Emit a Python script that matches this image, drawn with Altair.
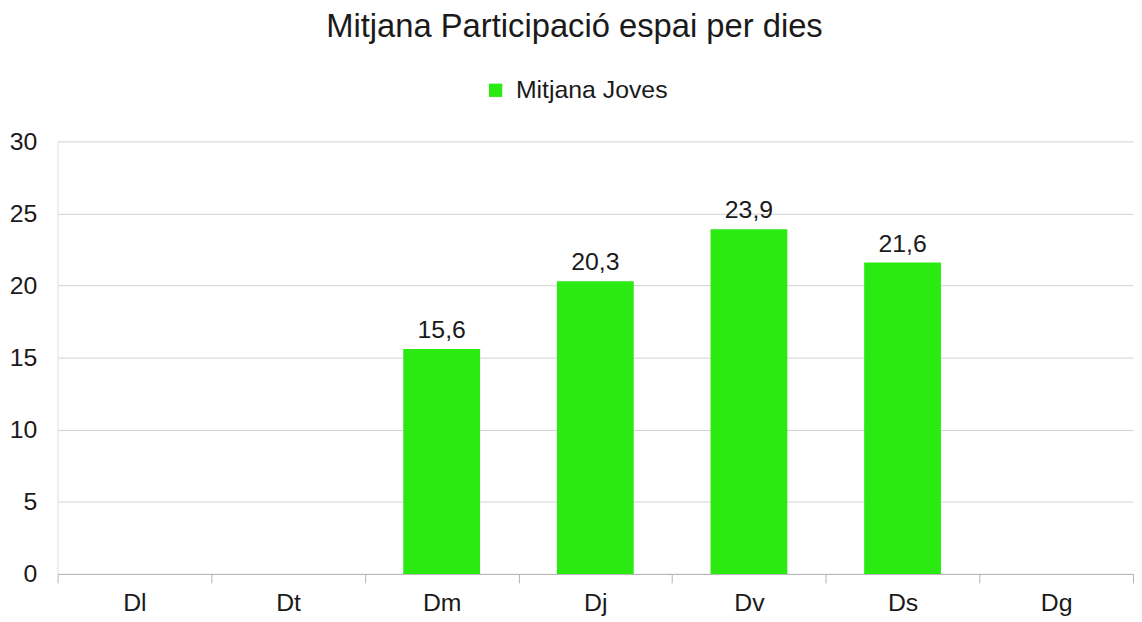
import altair as alt
import pandas as pd

days = ["Dl", "Dt", "Dm", "Dj", "Dv", "Ds", "Dg"]
values = [None, None, 15.6, 20.3, 23.9, 21.6, None]
series_name = "Mitjana Joves"

df = pd.DataFrame({"dia": days, "valor": values})
df["serie"] = series_name
df["etiqueta"] = [("" if v is None else f"{v:.1f}".replace(".", ",")) for v in values]

FONT = "Liberation Sans"
GREEN = "#2aea12"
TXT = "#1a1a1a"

x = alt.X("dia:N", sort=days, title=None,
          scale=alt.Scale(paddingInner=0, paddingOuter=0),
          axis=alt.Axis(labelAngle=0, labelFontSize=25, labelColor=TXT,
                        labelFont=FONT, labelPadding=8, tickBand="extent",
                        tickColor="#b3b3b3", tickSize=9, domainColor="#b3b3b3",
                        labelBaseline="top"))

base = alt.Chart(df).encode(x=x)

bars = base.mark_bar(color=GREEN, width=alt.RelativeBandSize(0.5)).encode(
    y=alt.Y("valor:Q", title=None,
            scale=alt.Scale(domain=[0, 30]),
            axis=alt.Axis(values=[0, 5, 10, 15, 20, 25, 30], labelFontSize=25,
                          labelColor=TXT, labelFont=FONT, ticks=False,
                          labelPadding=21, domainColor="#e0e0e0",
                          gridColor="#d0d0d0")),
    color=alt.Color("serie:N", scale=alt.Scale(range=[GREEN]),
                    legend=alt.Legend(title=None, orient="none", legendX=429,
                                      legendY=-64, symbolType="square",
                                      symbolSize=180, labelFontSize=25,
                                      labelFont=FONT, labelColor=TXT,
                                      labelOffset=8, symbolStrokeWidth=0)),
)

labels = base.mark_text(dy=-11, fontSize=25, font=FONT, color=TXT,
                        baseline="alphabetic").encode(
    y=alt.Y("valor:Q"),
    text="etiqueta:N",
)

chart = (bars + labels).properties(
    width=1084, height=436,
    title=alt.TitleParams("Mitjana Participació espai per dies", fontSize=33,
                          font=FONT, fontWeight="normal", color=TXT,
                          offset=8, dx=-21, anchor="middle",
                          baseline="alphabetic"),
    padding={"left": 1, "top": 1, "right": 0, "bottom": 0},
).configure_view(stroke=None)

chart.save("out.html", embed_options={"renderer": "svg", "actions": False})
